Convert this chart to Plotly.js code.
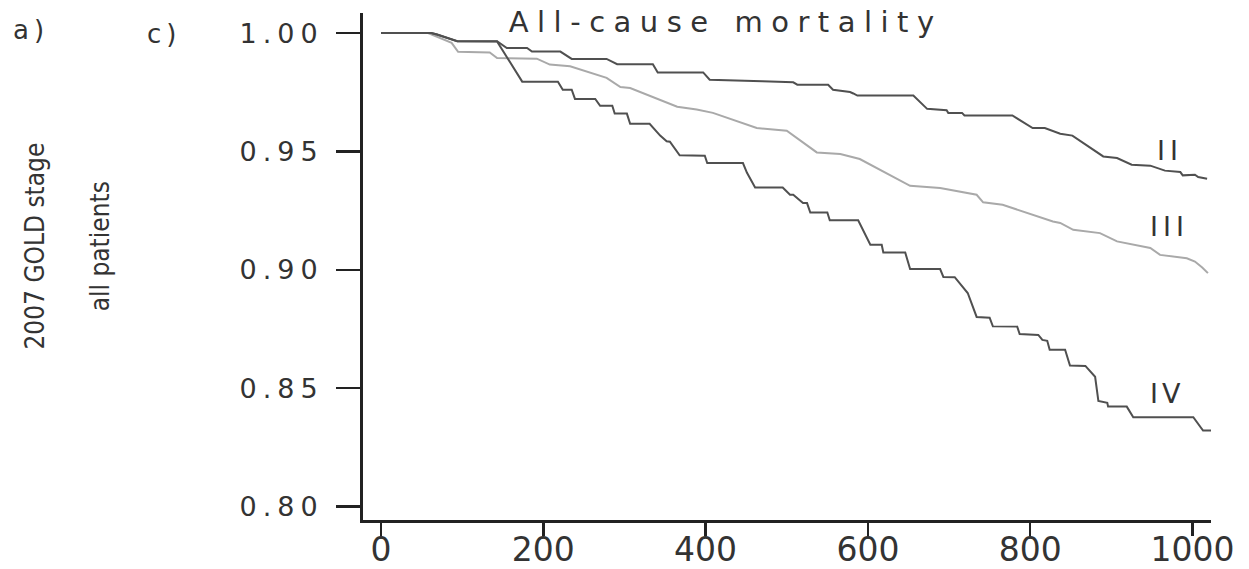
<!DOCTYPE html>
<html>
<head>
<meta charset="utf-8">
<script src="https://cdn.plot.ly/plotly-3.0.1.min.js"></script>
<style>
  html, body { margin: 0; padding: 0; background: #fff; }
  #chart { width: 1249px; height: 569px; }
  .gtitle { letter-spacing: 8.5px; }
  .ytick text { letter-spacing: 6px; }
</style>
</head>
<body>
<div id="chart"></div>
<script>
// ---- data (days, survival probability) ----
const timeII = [0, 62, 69, 81, 94, 143, 151, 155, 180, 186, 221, 235, 278, 291, 335, 341, 397, 405, 470, 508, 513, 551, 557, 578, 582, 587, 656, 673, 697, 699, 716, 719, 778, 803, 818, 837, 852, 890, 907, 925, 948, 966, 985, 988, 1003, 1007, 1018];
const survII = [1.000, 1.000, 0.9994, 0.9981, 0.9966, 0.9966, 0.9945, 0.9937, 0.9937, 0.9922, 0.9922, 0.9891, 0.9891, 0.9869, 0.9869, 0.9834, 0.9834, 0.9803, 0.9797, 0.9792, 0.9782, 0.9782, 0.9761, 0.9751, 0.9745, 0.9736, 0.9736, 0.9680, 0.9674, 0.9663, 0.9663, 0.9652, 0.9652, 0.9599, 0.9599, 0.9575, 0.9567, 0.9479, 0.9472, 0.9444, 0.9440, 0.9419, 0.9413, 0.9399, 0.9402, 0.9392, 0.9385];

const timeIII = [0, 58, 87, 95, 134, 143, 192, 208, 233, 278, 295, 307, 365, 389, 409, 434, 463, 500, 537, 566, 590, 652, 689, 734, 742, 766, 828, 837, 853, 886, 907, 948, 960, 993, 1003, 1012, 1019];
const survIII = [1.000, 1.000, 0.9959, 0.9921, 0.9918, 0.9895, 0.9892, 0.9867, 0.9860, 0.9811, 0.9772, 0.9768, 0.9689, 0.9677, 0.9663, 0.9633, 0.9599, 0.9588, 0.9496, 0.9489, 0.9468, 0.9355, 0.9346, 0.9317, 0.9285, 0.9275, 0.9204, 0.9198, 0.9169, 0.9155, 0.9120, 0.9092, 0.9063, 0.9049, 0.9035, 0.9010, 0.8986];

const timeIV = [0, 62, 69, 81, 94, 143, 174, 218, 224, 235, 239, 264, 270, 285, 288, 303, 307, 331, 338, 344, 352, 356, 368, 399, 402, 446, 451, 461, 495, 504, 508, 520, 525, 529, 550, 553, 588, 600, 603, 617, 619, 646, 652, 689, 693, 707, 723, 734, 750, 754, 784, 787, 810, 815, 821, 824, 843, 849, 868, 880, 884, 895, 896, 919, 927, 1001, 1013, 1031];
const survIV = [1.000, 1.000, 0.9994, 0.9981, 0.9966, 0.9965, 0.9795, 0.9795, 0.9761, 0.9761, 0.9722, 0.9722, 0.9693, 0.9693, 0.9660, 0.9660, 0.9617, 0.9617, 0.9592, 0.9567, 0.9543, 0.9541, 0.9484, 0.9482, 0.9451, 0.9451, 0.9410, 0.9348, 0.9348, 0.9317, 0.9317, 0.9282, 0.9282, 0.9242, 0.9242, 0.9209, 0.9209, 0.9127, 0.9106, 0.9106, 0.9073, 0.9073, 0.9003, 0.9003, 0.8970, 0.8969, 0.8902, 0.8801, 0.8798, 0.8761, 0.8760, 0.8729, 0.8725, 0.8704, 0.8700, 0.8662, 0.8662, 0.8596, 0.8594, 0.8548, 0.8446, 0.8438, 0.8422, 0.8422, 0.8377, 0.8377, 0.8321, 0.8321];

const xTickVals = [0, 200, 400, 600, 800, 1000];
const xTickText = ['0', '200', '400', '600', '800', '1000'];
const yTickVals = [0.80, 0.85, 0.90, 0.95, 1.00];
const yTickText = ['0.80', '0.85', '0.90', '0.95', '1.00'];

const stageNames = ['II', 'III', 'IV'];
const titleText = 'All-cause mortality';
const sideLabel1 = '2007 GOLD stage';
const sideLabel2 = 'all patients';
const panelA = 'a)';
const panelC = 'c)';

// ---- figure ----
const dark = '#505050';
const light = '#a9a9a9';
const axisCol = '#222222';
const textCol = '#333333';

function spaced(t, px) {
  return '<span style="letter-spacing:' + px + 'px">' + t + '</span>';
}

const traces = [
  { x: timeIII, y: survIII, mode: 'lines', line: { color: light, width: 2 }, name: stageNames[1], hoverinfo: 'skip' },
  { x: timeIV, y: survIV, mode: 'lines', line: { color: dark, width: 2 }, name: stageNames[2], hoverinfo: 'skip' },
  { x: timeII, y: survII, mode: 'lines', line: { color: dark, width: 2 }, name: stageNames[0], hoverinfo: 'skip' }
];

const stageFont = { family: 'DejaVu Sans', size: 27, color: textCol };
const sideFont = { family: 'Liberation Sans Narrow, DejaVu Sans Condensed, Roboto Condensed, sans-serif', size: 26, color: textCol };

const layout = {
  width: 1249,
  height: 569,
  margin: { l: 363, r: 38, t: 13, b: 49, pad: 0 },
  paper_bgcolor: '#ffffff',
  plot_bgcolor: '#ffffff',
  showlegend: false,
  title: {
    text: titleText,
    x: 0.581, xref: 'container', xanchor: 'center',
    y: 0.962, yref: 'container', yanchor: 'middle',
    font: { family: 'DejaVu Sans', size: 29, color: textCol }
  },
  xaxis: {
    range: [-22.2, 1022.8],
    tickvals: xTickVals, ticktext: xTickText,
    showgrid: false, zeroline: false,
    showline: true, linecolor: axisCol, linewidth: 2.5,
    ticks: 'outside', ticklen: 13, tickwidth: 2.5, tickcolor: axisCol,
    tickfont: { family: 'DejaVu Sans', size: 33, color: textCol },
    ticklabelstandoff: -14,
    fixedrange: true
  },
  yaxis: {
    range: [0.7943, 1.0085],
    tickvals: yTickVals, ticktext: yTickText,
    showgrid: false, zeroline: false,
    showline: true, linecolor: axisCol, linewidth: 3,
    ticks: 'outside', ticklen: 24, tickwidth: 2.5, tickcolor: axisCol,
    tickfont: { family: 'DejaVu Sans', size: 27, color: textCol },
    ticklabelstandoff: 7,
    fixedrange: true
  },
  annotations: [
    { x: 972, y: 0.9503, xref: 'x', yref: 'y', text: spaced(stageNames[0], 5), showarrow: false,
      font: stageFont, xanchor: 'center', yanchor: 'middle' },
    { x: 972, y: 0.9182, xref: 'x', yref: 'y', text: spaced(stageNames[1], 5), showarrow: false,
      font: stageFont, xanchor: 'center', yanchor: 'middle' },
    { x: 969, y: 0.8476, xref: 'x', yref: 'y', text: spaced(stageNames[2], 4), showarrow: false,
      font: stageFont, xanchor: 'center', yanchor: 'middle' },
    { x: -0.392, y: 0.966, xref: 'paper', yref: 'paper', text: spaced(panelA, 5), showarrow: false,
      font: { family: 'DejaVu Sans', size: 26, color: textCol }, xanchor: 'center', yanchor: 'middle' },
    { x: -0.235, y: 0.958, xref: 'paper', yref: 'paper', text: spaced(panelC, 5), showarrow: false,
      font: { family: 'DejaVu Sans', size: 26, color: textCol }, xanchor: 'center', yanchor: 'middle' },
    { x: -0.387, y: 0.541, xref: 'paper', yref: 'paper', text: sideLabel1, showarrow: false, textangle: -90,
      font: sideFont, xanchor: 'center', yanchor: 'middle' },
    { x: -0.310, y: 0.540, xref: 'paper', yref: 'paper', text: sideLabel2, showarrow: false, textangle: -90,
      font: sideFont, xanchor: 'center', yanchor: 'middle' }
  ]
};

Plotly.newPlot('chart', traces, layout, { displayModeBar: false, staticPlot: true });
</script>
</body>
</html>
